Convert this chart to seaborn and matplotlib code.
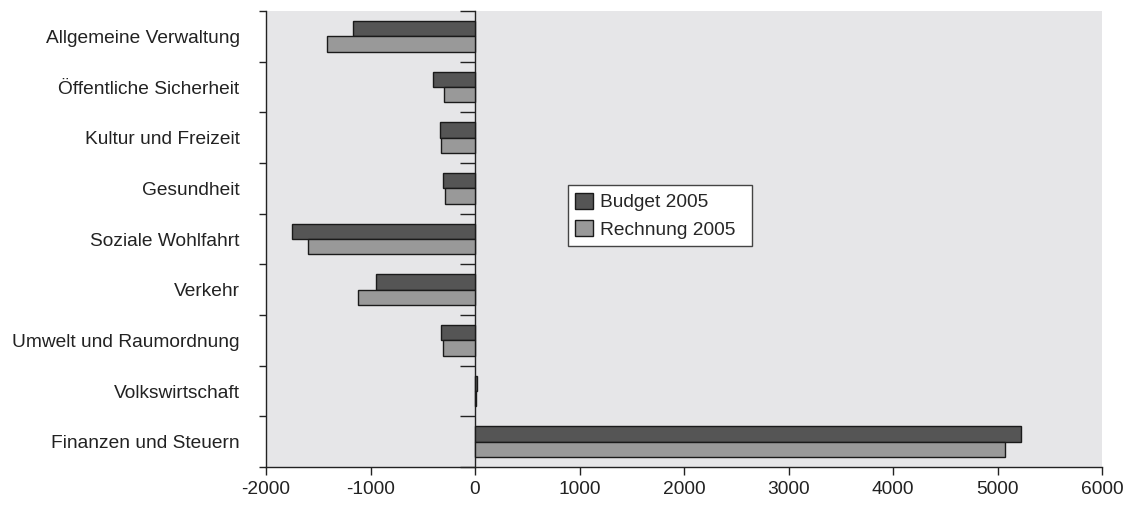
import numpy as np
import pandas as pd
import seaborn as sns
import matplotlib.pyplot as plt

categories = ["Allgemeine Verwaltung", "Öffentliche Sicherheit", "Kultur und Freizeit",
              "Gesundheit", "Soziale Wohlfahrt", "Verkehr", "Umwelt und Raumordnung",
              "Volkswirtschaft", "Finanzen und Steuern"]
budget_2005 = [-1165, -399, -332, -309, -1754, -950, -328, 20, 5222]
rechnung_2005 = [-1419, -294, -328, -287, -1601, -1123, -309, 10, 5075]
series_names = ["Budget 2005", "Rechnung 2005"]
x_ticks = [-2000, -1000, 0, 1000, 2000, 3000, 4000, 5000, 6000]

df = pd.DataFrame({
    "Bereich": categories * 2,
    "Wert": budget_2005 + rechnung_2005,
    "Serie": [series_names[0]] * len(categories) + [series_names[1]] * len(categories),
})

sns.set_style("white")
plt.rcParams['font.family'] = ['Liberation Sans', 'DejaVu Sans']
fs = 13.8

fig = plt.figure(figsize=(11.25, 5.07), dpi=100)
ax = fig.add_axes([266 / 1125, 40 / 507, 836 / 1125, 456 / 507])
ax.set_facecolor('#e6e6e8')

sns.barplot(data=df, x="Wert", y="Bereich", hue="Serie", orient="h",
            palette=["#555555", "#999999"], width=0.6, edgecolor="#1a1a1a",
            linewidth=1, saturation=1, ax=ax)

ax.set_xlim(-2000, 6000)
ax.set_xticks(x_ticks)
ax.set_xticklabels([str(v) for v in x_ticks], fontsize=fs, color='#222222')
ax.set_xlabel("")
ax.set_ylabel("")

# category labels at the centres, separator ticks at the borders
ax.set_yticks(range(len(categories)))
ax.set_yticklabels(categories, fontsize=fs, color='#222222')
ax.set_yticks(np.arange(-0.5, len(categories)), minor=True)
ax.tick_params(axis='y', which='major', left=True, length=0, pad=19)
ax.tick_params(axis='y', which='minor', left=True, length=5, width=1, color='#222222', direction='out')
ax.tick_params(axis='x', bottom=True, length=6, width=1, color='#222222', direction='out', pad=4)

for side in ['top', 'right']:
    ax.spines[side].set_visible(False)
for side in ['left', 'bottom']:
    ax.spines[side].set_color('#222222')
    ax.spines[side].set_linewidth(1)

# value axis crossing at zero
zero_frac = (0 - (-2000)) / (6000 - (-2000))
sec = ax.secondary_yaxis(zero_frac)
sec.set_yticks(np.arange(-0.5, len(categories)))
sec.set_yticklabels([])
sec.tick_params(axis='y', left=True, length=11, width=1, color='#222222', direction='out')
sec.spines['left'].set_color('#222222')
sec.spines['left'].set_linewidth(1)

leg = ax.legend(loc='upper left', bbox_to_anchor=(0.361, 0.482, 0.2201, 0.136),
                mode='expand', fontsize=fs,
                frameon=True, fancybox=False, edgecolor='#444444', borderaxespad=0,
                handlelength=0.9, handleheight=0.9, handletextpad=0.4,
                labelspacing=0.45, borderpad=0.4, framealpha=1)
leg.get_frame().set_linewidth(1)
for h in leg.legend_handles:
    h.set_edgecolor('#1a1a1a')
    h.set_linewidth(1)

fig.savefig("out.png", dpi=100)
